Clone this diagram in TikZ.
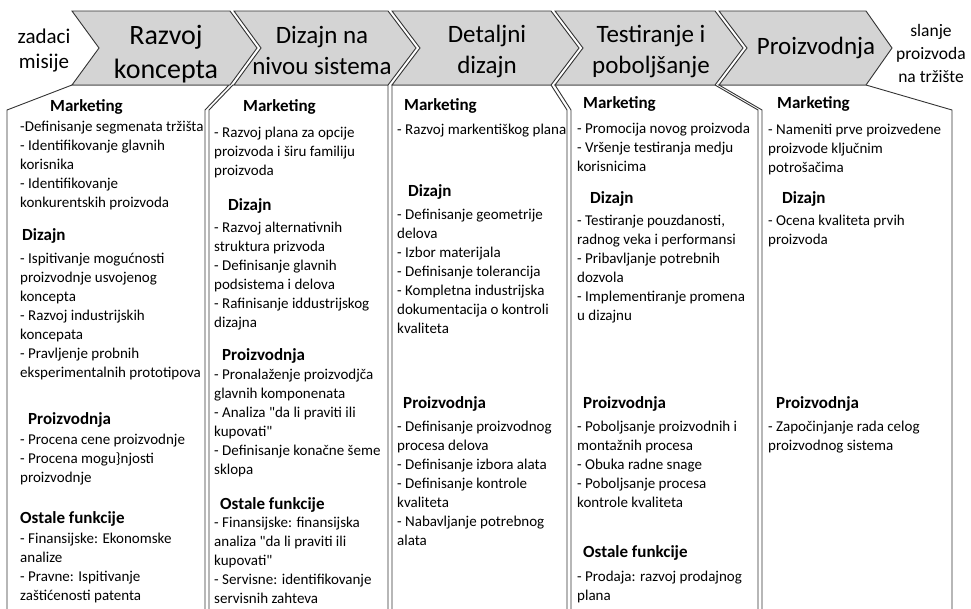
\documentclass[tikz,border=0pt]{standalone}
\usepackage{fontspec}
\setmainfont{Carlito}[Ligatures=TeXOff]
\definecolor{bandgray}{RGB}{212,212,212}

\begin{document}
\begin{tikzpicture}[x=1pt, y=-1pt,
    stage/.style={draw=black!80, fill=bandgray, line width=0.9pt, line join=miter},
    panel/.style={draw=black!80, fill=white, line width=0.9pt},
    title/.style={align=center, inner sep=0pt, font=\fontsize{25}{31}\selectfont},
    side/.style={align=center, inner sep=0pt},
    head/.style={anchor=west, inner sep=0pt, font=\bfseries\fontsize{17}{20}\selectfont},
    body/.style={anchor=north west, align=left, inner sep=0pt, font=\fontsize{15}{19}\selectfont}]
    \useasboundingbox (0,0) rectangle (971,608);
    \clip (0,0) rectangle (971,608);

    % Columns under the phases
    \draw[panel] (72,85) -- (7,110) -- (7,620) -- (205,620) -- (205,110) -- (229,85) -- cycle;
    \draw[panel] (233,85) -- (209,110) -- (209,620) -- (388,620) -- (388,85) -- cycle;
    \draw[panel] (392,85) -- (392,620) -- (567,620) -- (567,110) -- (551,85) -- cycle;
    \draw[panel] (555,85) -- (571,110) -- (571,620) -- (758,620) -- (758,110) -- (715,85) -- cycle;
    \draw[panel] (719,85) -- (762,110) -- (762,620) -- (952,620) -- (952,110) -- (866,85) -- cycle;

    % Phase chevrons
    \draw[stage] (72,11) -- (230,11) -- (257,48) -- (230,85) -- (72,85) -- (99,48) -- cycle;
    \draw[stage] (234,11) -- (388,11) -- (416,48) -- (388,85) -- (234,85) -- (261,48) -- cycle;
    \draw[stage] (392,11) -- (551,11) -- (579,48) -- (551,85) -- (392,85) -- (420,48) -- cycle;
    \draw[stage] (555,11) -- (715,11) -- (743,48) -- (715,85) -- (555,85) -- (583,48) -- cycle;
    \draw[stage] (719,11) -- (866,11) -- (892,48) -- (866,85) -- (719,85) -- (747,48) -- cycle;

    \node[side, font=\fontsize{21}{25}\selectfont] (start) at (44,51) {zadaci\\misije};
    \node[title, font=\fontsize{28}{34}\selectfont] (t1) at (166,54) {Razvoj\\koncepta};
    \node[title] (t2) at (322,50) {Dizajn na\\nivou sistema};
    \node[title] (t3) at (487,51) {Detaljni\\dizajn};
    \node[title] (t4) at (651,51) {Testiranje i\\poboljšanje};
    \node[title] (t5) at (816,48) {Proizvodnja};
    \node[side, font=\fontsize{17.5}{23}\selectfont] (finish) at (931,53) {slanje\\proizvoda\\na tržište};

    % Razvoj koncepta
    \node[head] (mk1) at (50,107) {Marketing};
    \node[body] (mk1t) at (20,121) {-Definisanje segmenata tržišta\\- Identifikovanje glavnih\\korisnika\\- Identifikovanje\\konkurentskih proizvoda};
    \node[head] (dz1) at (22,236) {Dizajn};
    \node[body] (dz1t) at (20,253) {- Ispitivanje mogućnosti\\proizvodnje usvojenog\\koncepta\\- Razvoj industrijskih\\koncepata\\- Pravljenje probnih\\eksperimentalnih prototipova};
    \node[head] (pr1) at (28,420) {Proizvodnja};
    \node[body] (pr1t) at (20,434) {- Procena cene proizvodnje\\- Procena mogu\}njosti\\proizvodnje};
    \node[head] (os1) at (20,519) {Ostale funkcije};
    \node[body] (os1t) at (20,533) {- Finansijske: Ekonomske\\analize\\- Pravne: Ispitivanje\\zaštićenosti patenta};

    % Dizajn na nivou sistema
    \node[head] (mk2) at (243,107) {Marketing};
    \node[body] (mk2t) at (214,127) {- Razvoj plana za opcije\\proizvoda i širu familiju\\proizvoda};
    \node[head] (dz2) at (228,206) {Dizajn};
    \node[body] (dz2t) at (214,222) {- Razvoj alternativnih\\struktura prizvoda\\- Definisanje glavnih\\podsistema i delova\\- Rafinisanje iddustrijskog\\dizajna};
    \node[head] (pr2) at (222,356) {Proizvodnja};
    \node[body] (pr2t) at (214,369) {- Pronalaženje proizvodjča\\glavnih komponenata\\- Analiza "da li praviti ili\\kupovati"\\- Definisanje konačne šeme\\sklopa};
    \node[head] (os2) at (220,505) {Ostale funkcije};
    \node[body] (os2t) at (214,517) {- Finansijske: finansijska\\analiza "da li praviti ili\\kupovati"\\- Servisne: identifikovanje\\servisnih zahteva};

    % Detaljni dizajn
    \node[head] (mk3) at (404,106) {Marketing};
    \node[body] (mk3t) at (397,124) {- Razvoj markentiškog plana};
    \node[head] (dz3) at (408,192) {Dizajn};
    \node[body] (dz3t) at (397,209) {- Definisanje geometrije\\delova\\- Izbor materijala\\- Definisanje tolerancija\\- Kompletna industrijska\\dokumentacija o kontroli\\kvaliteta};
    \node[head] (pr3) at (403,404) {Proizvodnja};
    \node[body] (pr3t) at (397,421) {- Definisanje proizvodnog\\procesa delova\\- Definisanje izbora alata\\- Definisanje kontrole\\kvaliteta\\- Nabavljanje potrebnog\\alata};

    % Testiranje i poboljsanje
    \node[head] (mk4) at (583,104) {Marketing};
    \node[body] (mk4t) at (577,123) {- Promocija novog proizvoda\\- Vršenje testiranja medju\\korisnicima};
    \node[head] (dz4) at (590,199) {Dizajn};
    \node[body] (dz4t) at (577,215) {- Testiranje pouzdanosti,\\radnog veka i performansi\\- Pribavljanje potrebnih\\dozvola\\- Implementiranje promena\\u dizajnu};
    \node[head] (pr4) at (583,404) {Proizvodnja};
    \node[body] (pr4t) at (577,421) {- Poboljsanje proizvodnih i\\montažnih procesa\\- Obuka radne snage\\- Poboljsanje procesa\\kontrole kvaliteta};
    \node[head] (os4) at (583,553) {Ostale funkcije};
    \node[body] (os4t) at (577,571) {- Prodaja: razvoj prodajnog\\plana};

    % Proizvodnja
    \node[head] (mk5) at (777,104) {Marketing};
    \node[body] (mk5t) at (768,124) {- Nameniti prve proizvedene\\proizvode ključnim\\potrošačima};
    \node[head] (dz5) at (782,199) {Dizajn};
    \node[body] (dz5t) at (768,215) {- Ocena kvaliteta prvih\\proizvoda};
    \node[head] (pr5) at (776,404) {Proizvodnja};
    \node[body] (pr5t) at (768,421) {- Započinjanje rada celog\\proizvodnog sistema};
\end{tikzpicture}
\end{document}
